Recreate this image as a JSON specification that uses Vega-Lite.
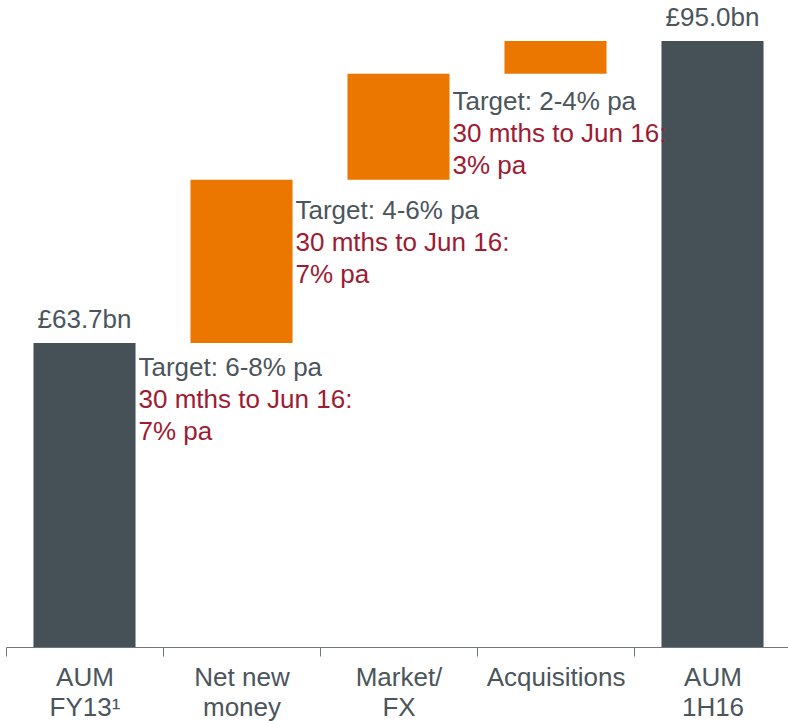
{
  "$schema": "https://vega.github.io/schema/vega-lite/v6.json",
  "width": 785,
  "height": 647,
  "autosize": {"type": "none"},
  "padding": {"left": 6, "top": 0, "right": 0, "bottom": 74},
  "background": "white",
  "config": {
    "view": {"stroke": null},
    "font": "Liberation Sans",
    "text": {"font": "Liberation Sans", "fontSize": 26}
  },
  "data": {
    "values": [
      {"category": "AUM FY13¹", "start": 0, "end": 63.7, "type": "total", "label": "£63.7bn", "ann": 61.2, "target": "Target: 6-8% pa", "actual": "30 mths to Jun 16:\n7% pa"},
      {"category": "Net new money", "start": 63.7, "end": 80.6, "type": "delta", "label": "", "ann": 77.5, "target": "Target: 4-6% pa", "actual": "30 mths to Jun 16:\n7% pa"},
      {"category": "Market/FX", "start": 80.6, "end": 91.6, "type": "delta", "label": "", "ann": 88.8, "target": "Target: 2-4% pa", "actual": "30 mths to Jun 16:\n3% pa"},
      {"category": "Acquisitions", "start": 91.6, "end": 95.0, "type": "delta", "label": "", "ann": null, "target": null, "actual": null},
      {"category": "AUM 1H16", "start": 0, "end": 95.0, "type": "total", "label": "£95.0bn", "ann": null, "target": null, "actual": null}
    ]
  },
  "encoding": {
    "x": {
      "field": "category",
      "type": "nominal",
      "sort": null,
      "scale": {"paddingInner": 0, "paddingOuter": 0},
      "axis": {
        "title": null,
        "labelAngle": 0,
        "labelFontSize": 26,
        "labelFont": "Liberation Sans",
        "labelColor": "#4b555c",
        "labelLineHeight": 30,
        "labelPadding": 8,
        "labelExpr": "datum.value == 'AUM FY13¹' ? ['AUM', 'FY13¹'] : datum.value == 'Net new money' ? ['Net new', 'money'] : datum.value == 'Market/FX' ? ['Market/', 'FX'] : datum.value == 'AUM 1H16' ? ['AUM', '1H16'] : datum.value",
        "tickBand": "extent",
        "tickSize": 9,
        "tickColor": "#6f777c",
        "domainColor": "#6f777c",
        "labelFlush": false,
        "labelOverlap": false,
        "labelLimit": 0
      }
    }
  },
  "layer": [
    {
      "mark": {"type": "bar", "width": {"band": 0.65}},
      "encoding": {
        "y": {"field": "start", "type": "quantitative", "scale": {"domain": [32.19, 99.24], "zero": false, "nice": false, "clamp": true}, "axis": null},
        "y2": {"field": "end"},
        "color": {"field": "type", "type": "nominal", "scale": {"domain": ["total", "delta"], "range": ["#465057", "#ec7700"]}, "legend": null}
      }
    },
    {
      "transform": [{"filter": "datum.type == 'total'"}],
      "mark": {"type": "text", "baseline": "alphabetic", "dy": -15, "color": "#4b555c", "fontSize": 26},
      "encoding": {
        "y": {"field": "end", "type": "quantitative"},
        "text": {"field": "label"}
      }
    },
    {
      "transform": [{"filter": "datum.target != null"}],
      "mark": {"type": "text", "align": "left", "baseline": "alphabetic", "dx": 54, "dy": 9, "color": "#4b555c", "fontSize": 26},
      "encoding": {
        "y": {"field": "ann", "type": "quantitative"},
        "text": {"field": "target"}
      }
    },
    {
      "transform": [{"filter": "datum.target != null"}],
      "mark": {"type": "text", "align": "left", "baseline": "alphabetic", "dx": 54, "dy": 41, "lineBreak": "\n", "lineHeight": 32, "color": "#9e1b32", "fontSize": 26},
      "encoding": {
        "y": {"field": "ann", "type": "quantitative"},
        "text": {"field": "actual"}
      }
    }
  ]
}
